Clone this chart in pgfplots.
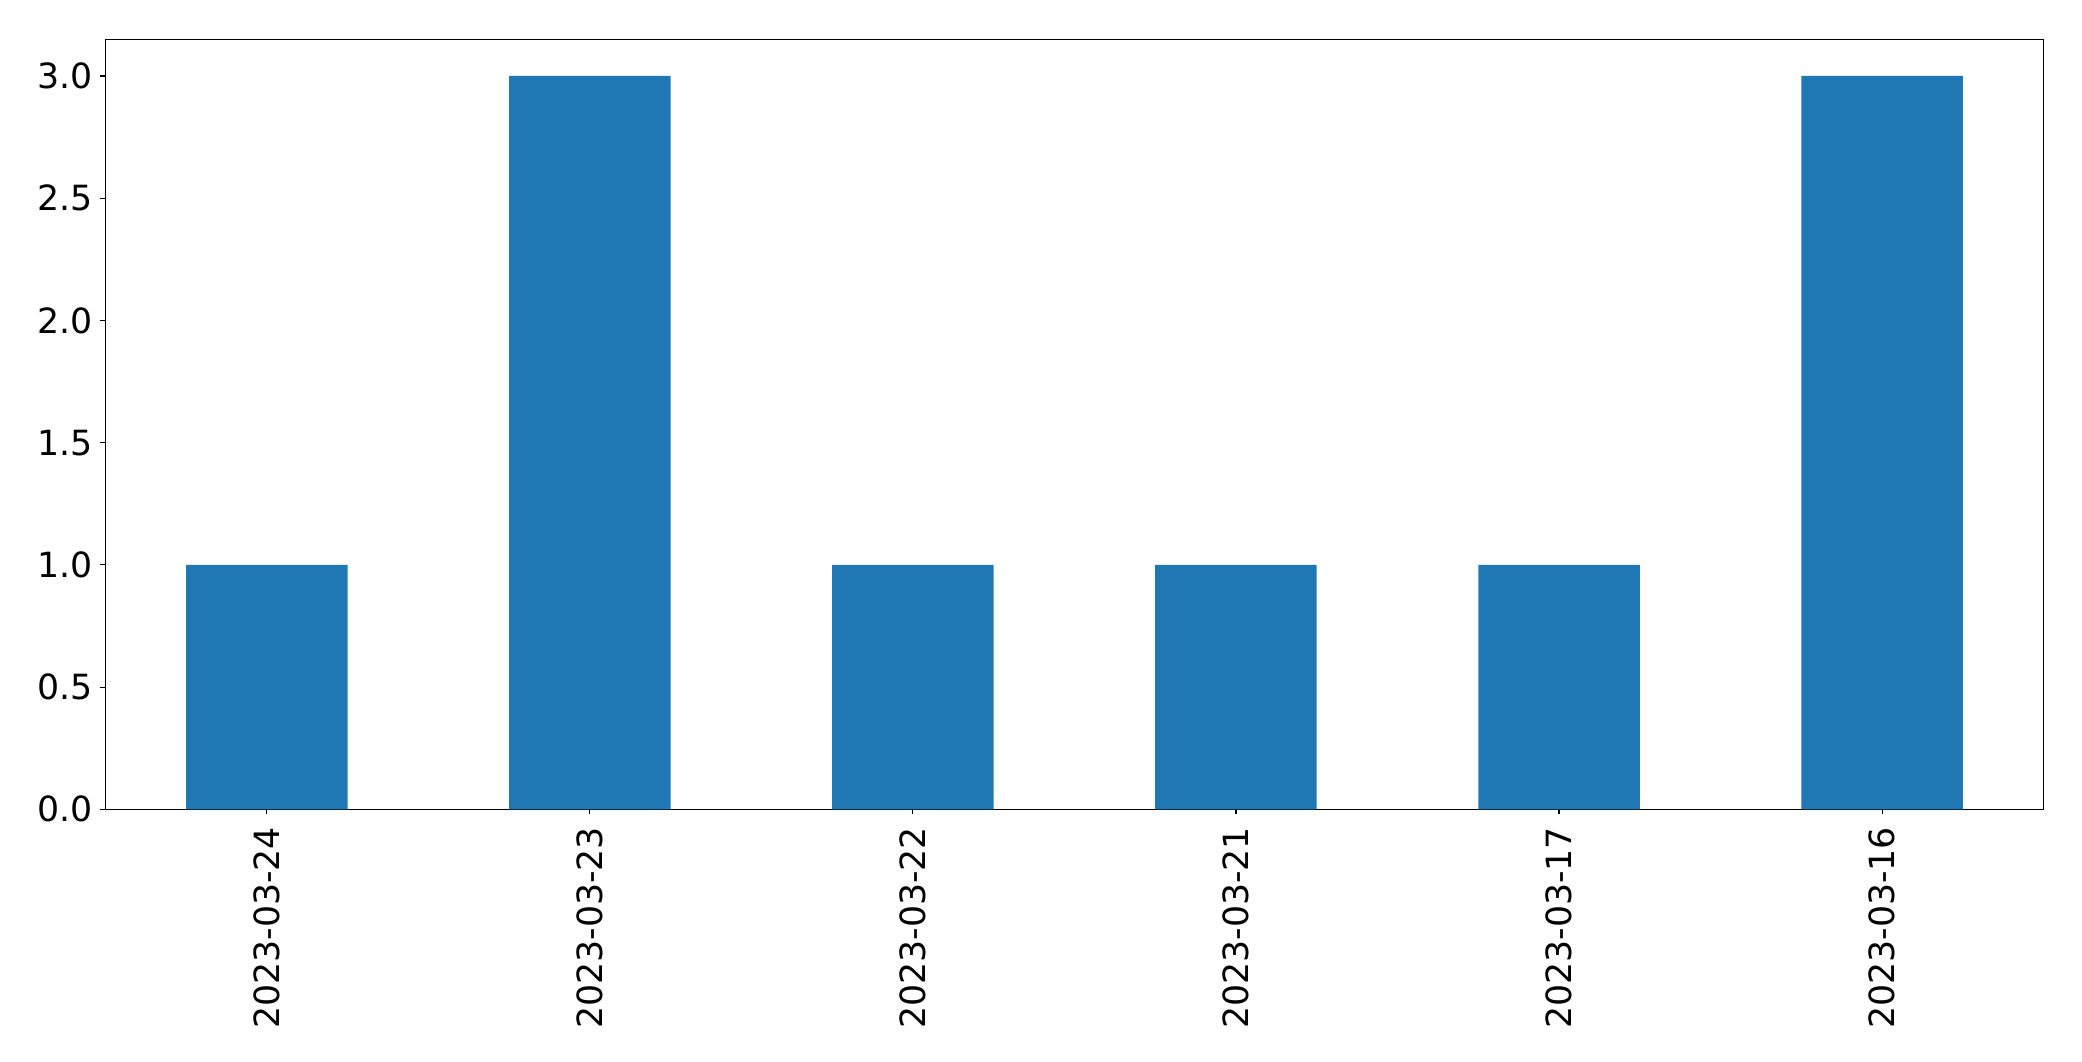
\documentclass[border=0pt]{standalone}
\usepackage{fontspec}
\setmainfont{DejaVu Sans}
\usepackage{pgfplots}
\pgfplotsset{compat=1.18}
\definecolor{mplblue}{HTML}{1F77B4}
\begin{document}
\begin{tikzpicture}
\path[use as bounding box] (-75.8pt,-181.2pt) rectangle (1423.2pt,582.7pt);
\begin{axis}[
    at={(0,0)}, anchor=south west,
    scale only axis,
    width=1395.6pt, height=554.4pt,
    xmin=-0.5, xmax=5.5,
    ymin=0, ymax=3.15,
    xtick={0,1,2,3,4,5},
    xticklabels={2023-03-24,2023-03-23,2023-03-22,2023-03-21,2023-03-17,2023-03-16},
    ytick={0,0.5,1,1.5,2,2.5,3},
    yticklabel style={/pgf/number format/fixed, /pgf/number format/fixed zerofill, /pgf/number format/precision=1},
    /pgf/number format/assume math mode=true,
    tick label style={font=\fontsize{25}{30}\selectfont, black},
    xticklabel style={yshift=-9pt, rotate=90, anchor=east, inner sep=0pt},
    yticklabel style={inner sep=0pt, xshift=-5.5pt},
    tick align=outside,
    major tick length=3.5pt,
    xtick pos=bottom, ytick pos=left,
    tick style={black, line width=0.8pt},
    axis line style={line width=0.8pt},
    ybar, bar width=0.5, bar shift=0pt,
]
\addplot[fill=mplblue, draw=none] coordinates {(0,1) (1,3) (2,1) (3,1) (4,1) (5,3)};
\end{axis}
\end{tikzpicture}
\end{document}
